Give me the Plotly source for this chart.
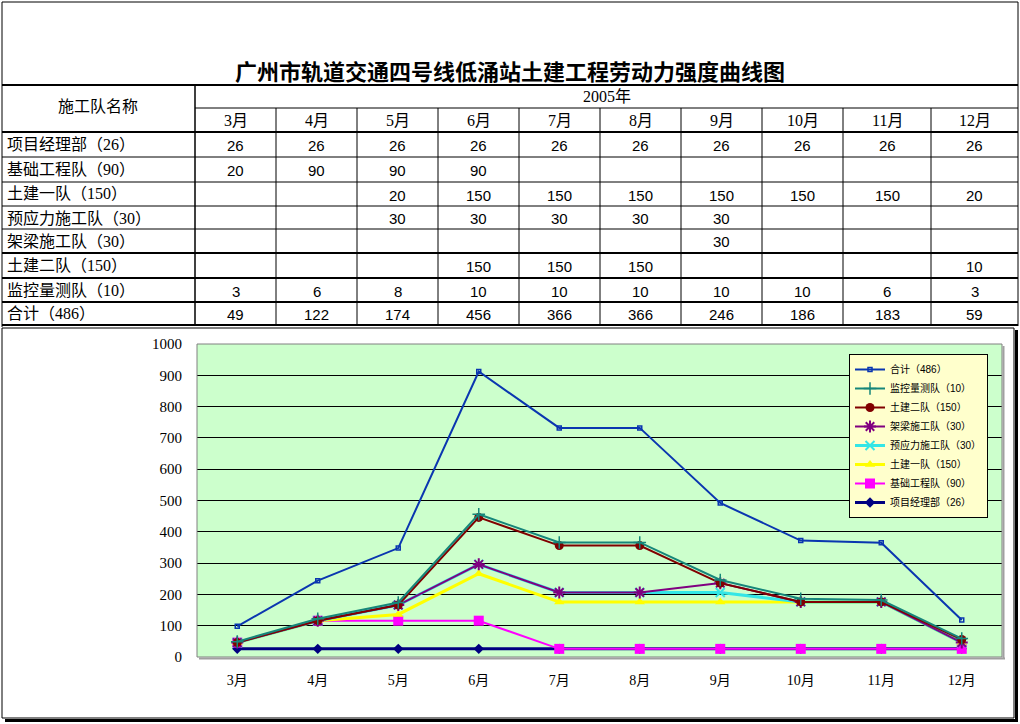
import plotly.graph_objects as go

# ---------------- data ----------------
months = ["3月", "4月", "5月", "6月", "7月", "8月", "9月", "10月", "11月", "12月"]
year_label = "2005年"
title_text = "广州市轨道交通四号线低涌站土建工程劳动力强度曲线图"
header_label = "施工队名称"

team_labels = ["项目经理部（26）", "基础工程队（90）", "土建一队（150）", "预应力施工队（30）",
               "架梁施工队（30）", "土建二队（150）", "监控量测队（10）", "合计（486）"]

xiangmu = [26, 26, 26, 26, 26, 26, 26, 26, 26, 26]
jichu = [20, 90, 90, 90, None, None, None, None, None, None]
tujian1 = [None, None, 20, 150, 150, 150, 150, 150, 150, 20]
yuyingli = [None, None, 30, 30, 30, 30, 30, None, None, None]
jialiang = [None, None, None, None, None, None, 30, None, None, None]
tujian2 = [None, None, None, 150, 150, 150, None, None, None, 10]
jiankong = [3, 6, 8, 10, 10, 10, 10, 10, 6, 3]
heji = [49, 122, 174, 456, 366, 366, 246, 186, 183, 59]

series = [xiangmu, jichu, tujian1, yuyingli, jialiang, tujian2, jiankong, heji]

y_ticks = [0, 100, 200, 300, 400, 500, 600, 700, 800, 900, 1000]

# ---------------- styles ----------------
W, H = 1020, 724
def X(px): return px / W
def Y(py): return 1 - py / H

styles = [
    dict(color="#000080", width=3, symbol="diamond", size=8, mlw=0),
    dict(color="#FF00FF", width=2, symbol="square", size=10, mlw=0),
    dict(color="#FFFF00", width=3, symbol="triangle-up", size=9, mlw=0),
    dict(color="#33E6E6", width=3, symbol="x-thin-open", size=9, mlw=2),
    dict(color="#800080", width=2, symbol="asterisk-open", size=10, mlw=2),
    dict(color="#800000", width=2, symbol="circle", size=9, mlw=0),
    dict(color="#16867A", width=2, symbol="cross-thin-open", size=9, mlw=1.5),
    dict(color="#0A36B0", width=2, symbol="square-open", size=4, mlw=1.5),
]

CJK = "Noto Sans CJK SC"
SERIF = "Liberation Serif, Noto Sans CJK SC"
NUM = "Liberation Sans, Noto Sans CJK SC"

fig = go.Figure()
for name, vals, st in zip(team_labels, series, styles):
    fig.add_trace(go.Scatter(
        x=months, y=[v if v is not None else 0 for v in vals], name=name,
        stackgroup="s", fill="none", mode="lines+markers",
        line=dict(color=st["color"], width=st["width"]),
        marker=dict(symbol=st["symbol"], size=st["size"], color=st["color"],
                    line=dict(color=st["color"], width=st["mlw"])),
    ))

# plot area
px0, px1, py0, py1 = 197, 1002, 344, 657

shapes = []
def hline(y, x0, x1, w=1, color="black"):
    shapes.append(dict(type="line", xref="paper", yref="paper", x0=X(x0), x1=X(x1),
                       y0=Y(y), y1=Y(y), line=dict(color=color, width=w)))
def vline(x, y0, y1, w=1, color="black"):
    shapes.append(dict(type="line", xref="paper", yref="paper", x0=X(x), x1=X(x),
                       y0=Y(y0), y1=Y(y1), line=dict(color=color, width=w)))

# table grid
col_edges = [195, 276, 357, 438, 519, 600, 681, 762, 843, 931, 1018]
row_edges = [132, 157, 182, 206, 229, 253, 278, 302, 325]
hline(2, 2, 1018)
hline(85, 2, 1018, 2)
hline(108, 195, 1018)
for i, r in enumerate(row_edges):
    hline(r, 2, 1018, 2 if i in (0, 5, 6, 7, 8) else 1)
vline(2, 2, 327)
vline(1018, 2, 326)
vline(195, 85, 325, 1.5)
for c in col_edges[1:-1]:
    vline(c, 108, 325)

# chart frame with shadow
shapes.append(dict(type="rect", xref="paper", yref="paper", x0=X(2), x1=X(1014),
                   y0=Y(718), y1=Y(328), line=dict(color="black", width=1)))
vline(1016.5, 330, 721, 3)
hline(720.5, 5, 1018, 3)

# plot area border and shadow
shapes.append(dict(type="rect", xref="paper", yref="paper", x0=X(px0), x1=X(px1),
                   y0=Y(py1), y1=Y(py0), line=dict(color="#808080", width=1), layer="above"))
vline(px1 + 1.5, py0 + 2, py1 + 2, 2, "#A0A0A0")
hline(py1 + 1.5, px0 + 2, px1 + 3, 2, "#A0A0A0")

annotations = []
def text(x, y, s, size=15, font=NUM, xanchor="center", color="black", bold=False):
    annotations.append(dict(xref="paper", yref="paper", x=X(x), y=Y(y), text=("<b>%s</b>" % s) if bold else s,
                            showarrow=False, xanchor=xanchor, yanchor="middle",
                            font=dict(size=size, family=font, color=color)))

text(510, 70, title_text, size=22, font=CJK, bold=True)
text(98, 107, header_label, size=16, font=SERIF)
text((195 + 1018) / 2, 96, year_label, size=16, font=SERIF)
col_centers = [(col_edges[i] + col_edges[i + 1]) / 2 for i in range(10)]
for c, m in zip(col_centers, months):
    text(c, 120, m, size=16, font=SERIF)
row_centers = [(row_edges[i] + row_edges[i + 1]) / 2 for i in range(8)]
for rc, lab, vals in zip(row_centers, team_labels, series):
    text(5, rc, lab, size=16, font=SERIF, xanchor="left")
    for c, v in zip(col_centers, vals):
        if v is not None:
            text(c, rc + 1, str(v), size=15, font=NUM)

fig.update_layout(
    width=W, height=H, margin=dict(l=0, r=0, t=0, b=0, autoexpand=False),
    paper_bgcolor="white", plot_bgcolor="#CCFFCC",
    shapes=shapes, annotations=annotations,
    showlegend=True,
    legend=dict(x=X(849), y=Y(354), xanchor="left", yanchor="top",
                bgcolor="#FFFFCC", bordercolor="black", borderwidth=1,
                traceorder="reversed", font=dict(size=10, family=NUM, color="black"),
                itemwidth=30, tracegroupgap=0),
    xaxis=dict(domain=[X(px0), X(px1)], type="category", range=[-0.5, 9.5], automargin=False,
               showgrid=False, zeroline=False, showline=False, ticks="",
               tickfont=dict(size=14, family=SERIF, color="black"), ticklabelstandoff=13),
    yaxis=dict(domain=[Y(py1), Y(py0)], range=[0, 1000], tickvals=y_ticks, automargin=False,
               showgrid=True, gridcolor="black", gridwidth=1, zeroline=False, showline=False,
               ticks="", tickfont=dict(size=15, family=SERIF, color="black"), ticklabelstandoff=14),
    hovermode=False,
)

post = (
    "document.documentElement.style.margin='0';document.body.style.margin='0';"
    "document.body.style.overflow='hidden';"
)
fig.write_html("out.html", config={"displayModeBar": False}, post_script=post)
